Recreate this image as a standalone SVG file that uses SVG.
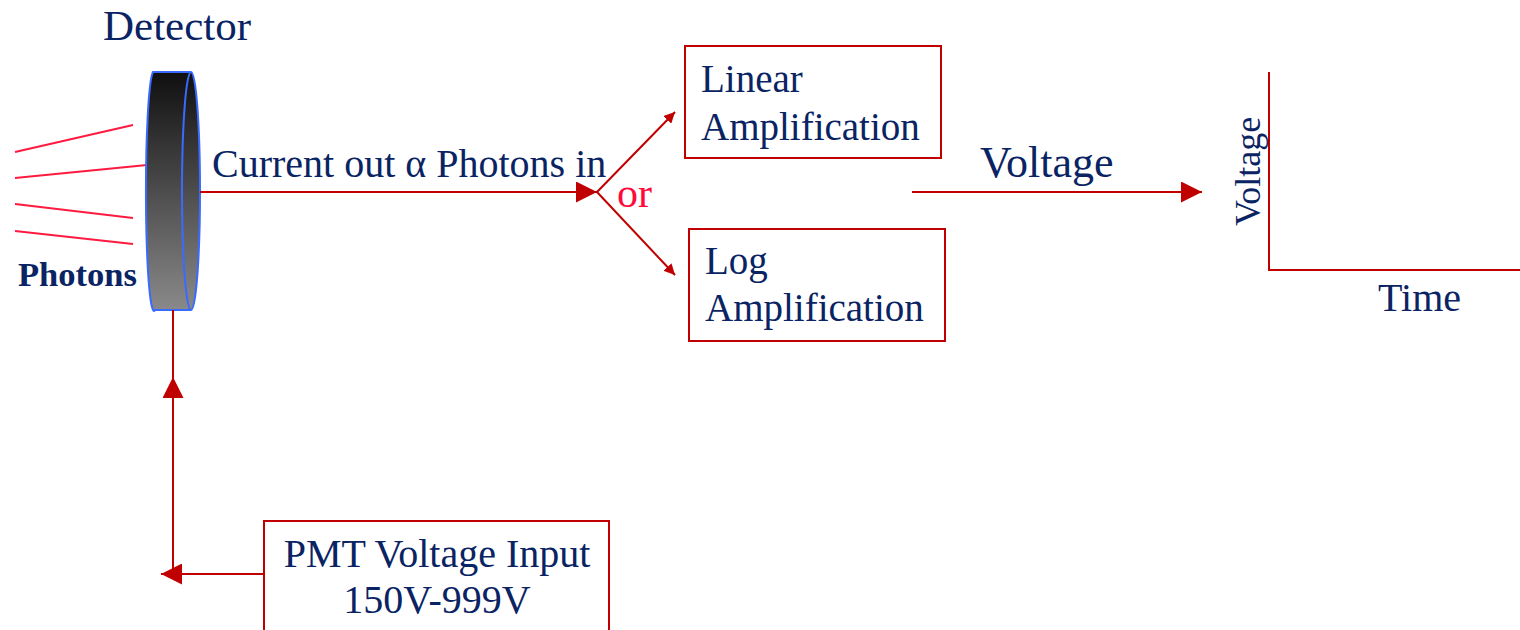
<svg xmlns="http://www.w3.org/2000/svg" width="1520" height="630" viewBox="0 0 1520 630">
  <style>
    .t { font-family: "Liberation Serif", "Times New Roman", serif; fill: #0a2463; }
    .box { fill: #ffffff; stroke: #c00000; stroke-width: 2; }
    .wire { stroke: #c00000; stroke-width: 2; fill: none; }
    .ray { stroke: #ff1a40; stroke-width: 2; }
  </style>
  <defs>
    <linearGradient id="disc" x1="0" y1="0" x2="0" y2="1">
      <stop offset="0" stop-color="#0f0f0f"/>
      <stop offset="1" stop-color="#8a8a8a"/>
    </linearGradient>
    <marker id="head" viewBox="0 0 10 10" refX="10" refY="5" markerWidth="11" markerHeight="11" markerUnits="userSpaceOnUse" orient="auto">
      <path d="M0,0 L10,5 L0,10 Z" fill="#c00000"/>
    </marker>
    <marker id="bighead" viewBox="0 0 10 10" refX="10" refY="5" markerWidth="21" markerHeight="21" markerUnits="userSpaceOnUse" orient="auto">
      <path d="M0,0 L10,5 L0,10 Z" fill="#c00000"/>
    </marker>
  </defs>

  <!-- incoming photons -->
  <g id="photons">
    <line class="ray" x1="15" y1="152" x2="133" y2="125"/>
    <line class="ray" x1="15" y1="178" x2="147" y2="165"/>
    <line class="ray" x1="15" y1="204" x2="133" y2="218"/>
    <line class="ray" x1="15" y1="231" x2="133" y2="244"/>
    <text class="t" x="18" y="286" font-size="34" font-weight="bold" textLength="119" lengthAdjust="spacingAndGlyphs">Photons</text>
  </g>

  <!-- detector disc -->
  <g id="detector">
    <text class="t" x="103" y="40" font-size="43">Detector</text>
    <path d="M153,72 L191,72 A9,119 0 0 1 191,310 L155,310 A8,119 0 0 1 153,72 Z" fill="url(#disc)" stroke="#3a6bff" stroke-width="2"/>
    <path d="M191,72 A9,119 0 0 0 191,310" fill="none" stroke="#3a6bff" stroke-width="2"/>
  </g>

  <!-- connectors -->
  <g id="connectors">
    <line class="wire" x1="200" y1="192" x2="597" y2="192" marker-end="url(#bighead)"/>
    <line class="wire" x1="597" y1="192" x2="675" y2="112" marker-end="url(#head)"/>
    <line class="wire" x1="597" y1="192" x2="675" y2="275" marker-end="url(#head)"/>
    <line class="wire" x1="912" y1="192" x2="1202" y2="192" marker-end="url(#bighead)"/>
    <line class="wire" x1="173" y1="310" x2="173" y2="570"/>
    <line class="wire" x1="173" y1="570" x2="173" y2="377" marker-end="url(#bighead)" stroke-opacity="0"/>
    <line class="wire" x1="264" y1="574" x2="161" y2="574" marker-end="url(#bighead)"/>
  </g>

  <text class="t" x="212" y="177" font-size="40">Current out α Photons in</text>
  <text x="617" y="207" font-size="42" font-family="Liberation Serif, serif" fill="#ff0a3c">or</text>

  <g id="linear">
    <rect class="box" x="685" y="46" width="256" height="112"/>
    <text class="t" x="701" y="92" font-size="39">Linear</text>
    <text class="t" x="701" y="140" font-size="39">Amplification</text>
  </g>

  <g id="log">
    <rect class="box" x="689" y="229" width="256" height="112"/>
    <text class="t" x="705" y="274" font-size="39">Log</text>
    <text class="t" x="705" y="321" font-size="39">Amplification</text>
  </g>

  <text class="t" x="980" y="177" font-size="44">Voltage</text>

  <!-- output plot axes -->
  <g id="plot">
    <path class="wire" d="M1269,72 L1269,270 L1520,270"/>
    <text class="t" x="0" y="0" font-size="36" transform="translate(1260,226) rotate(-90)">Voltage</text>
    <text class="t" x="1378" y="311" font-size="40">Time</text>
  </g>

  <g id="pmt">
    <rect class="box" x="264" y="521" width="345" height="120"/>
    <text class="t" x="437" y="567" font-size="40" text-anchor="middle">PMT Voltage Input</text>
    <text class="t" x="437" y="613" font-size="40" text-anchor="middle">150V-999V</text>
  </g>
</svg>
